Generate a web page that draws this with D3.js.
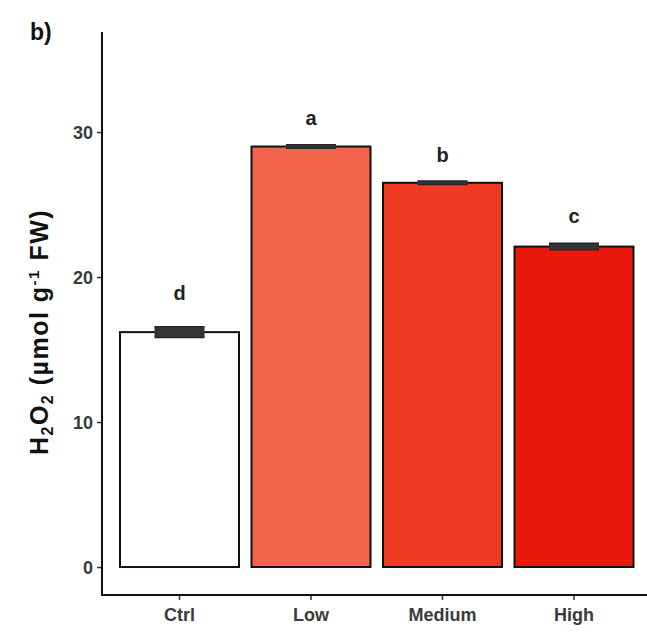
<!DOCTYPE html>
<html><head><meta charset="utf-8">
<script src="https://cdn.jsdelivr.net/npm/d3@7"></script>
<style>body{margin:0;background:#fff}svg{display:block}</style>
</head><body>
<svg id="c" width="647" height="634"></svg>
<script>
const categories = ["Ctrl","Low","Medium","High"];
const values = [16.2, 29.0, 26.5, 22.1];
const errors = [0.35, 0.1, 0.1, 0.2];
const letters = ["d","a","b","c"];
const letterY = [18.4, 30.5, 27.9, 23.7];
const colors = ["#ffffff","#f3654a","#ef3b22","#e9170c"];
const yTicks = [0,10,20,30];

const svg = d3.select("#c");
const font = "Liberation Sans, Arial, Helvetica, sans-serif";
const y = d3.scaleLinear().domain([-1.93, 36.9]).range([595, 32]);
const x = d3.scaleBand().domain(categories).range([113.75, 639.75]).paddingInner(0.095).paddingOuter(0.0475);

// bars
svg.selectAll("rect.bar").data(categories).enter().append("rect")
  .attr("x", d => x(d)).attr("width", x.bandwidth())
  .attr("y", (d,i) => y(values[i])).attr("height", (d,i) => y(0) - y(values[i]))
  .attr("fill", (d,i) => colors[i]).attr("stroke", "#111").attr("stroke-width", 2);

// error bars
const ew = x.bandwidth()*0.42;
categories.forEach((c,i) => {
  const cx = x(c) + x.bandwidth()/2;
  const g = svg.append("g").attr("stroke","#222").attr("stroke-width",2.2);
  g.append("line").attr("x1",cx).attr("x2",cx).attr("y1",y(values[i]-errors[i])).attr("y2",y(values[i]+errors[i]));
  [values[i]-errors[i], values[i]+errors[i]].forEach(v =>
    g.append("line").attr("x1",cx-ew/2).attr("x2",cx+ew/2).attr("y1",y(v)).attr("y2",y(v)));
  g.append("rect").attr("x",cx-ew/2).attr("width",ew).attr("y",y(values[i]+errors[i])).attr("height",Math.max(0,y(values[i]-errors[i])-y(values[i]+errors[i])))
   .attr("fill","#333").attr("stroke","none");
  svg.append("text").attr("x",cx).attr("y",y(letterY[i])).attr("text-anchor","middle")
    .attr("font-family",font).attr("font-weight","bold").attr("font-size",20).attr("fill","#222").text(letters[i]);
});

// axes
const yAxis = d3.axisLeft(y).tickValues(yTicks).tickSize(5).tickPadding(4);
const gy = svg.append("g").attr("transform","translate(102,0)").call(yAxis);
const xAxis = d3.axisBottom(x).tickSize(5).tickPadding(8);
const gx = svg.append("g").attr("transform","translate(0,595)").call(xAxis);
[gx, gy].forEach(g => {
  g.select(".domain").remove();
  g.selectAll(".tick line").attr("stroke","#333").attr("stroke-width",1.5);
  g.selectAll("text").attr("font-family",font).attr("font-size",18).attr("font-weight","bold").attr("fill","#3a3a3a");
});
gy.selectAll("text").attr("dy","0.35em");
svg.append("line").attr("x1",102).attr("x2",102).attr("y1",32).attr("y2",596).attr("stroke","#111").attr("stroke-width",2);
svg.append("line").attr("x1",101).attr("x2",647).attr("y1",595).attr("y2",595).attr("stroke","#111").attr("stroke-width",2);

// y title
const t = svg.append("text").attr("transform","translate(48,332) rotate(-90)").attr("text-anchor","middle")
  .attr("font-family",font).attr("font-weight","bold").attr("font-size",25).attr("letter-spacing",1.5).attr("fill","#111");
t.append("tspan").text("H");
t.append("tspan").attr("font-size",16).attr("dy",5).text("2");
t.append("tspan").attr("dy",-5).text("O");
t.append("tspan").attr("font-size",16).attr("dy",5).text("2");
t.append("tspan").attr("dy",-5).text(" (µmol g");
t.append("tspan").attr("font-size",15).attr("dy",-9).text("-1");
t.append("tspan").attr("dy",9).text(" FW)");

svg.append("text").attr("x",30).attr("y",40).attr("font-family",font).attr("font-weight","bold").attr("font-size",23).attr("fill","#111").text("b)");
</script>
</body></html>
